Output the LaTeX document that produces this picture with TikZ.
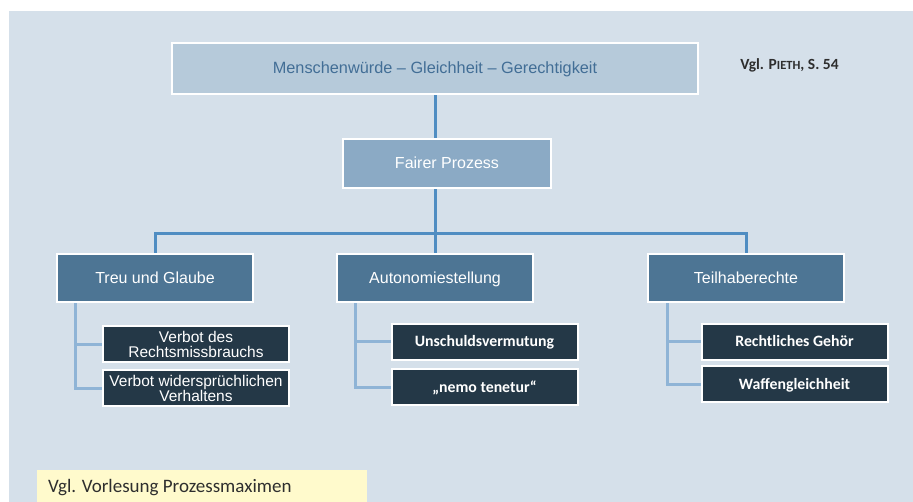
\documentclass[tikz,border=0pt]{standalone}
\usepackage{fontspec}
\setmainfont{Liberation Sans}
\newfontfamily\carlito{Carlito}
\usetikzlibrary{backgrounds}

\definecolor{pagebg}{HTML}{D5E0EA}
\definecolor{topfill}{HTML}{B6CADA}
\definecolor{toptext}{HTML}{426E96}
\definecolor{fairfill}{HTML}{8BAAC5}
\definecolor{midfill}{HTML}{4D7594}
\definecolor{leaffill}{HTML}{243847}
\definecolor{mainline}{HTML}{4F8DC2}
\definecolor{leafline}{HTML}{8FB4D6}
\definecolor{notefill}{HTML}{FFFACC}
\definecolor{notetext}{HTML}{2E2E2E}

\tikzset{
  box/.style={draw=white, line width=2pt, inner sep=0pt, align=center},
  topbox/.style={box, fill=topfill, text=toptext, minimum width=526pt, minimum height=51pt,
    font=\fontsize{16.3}{17}\selectfont, text height=11.5pt, text depth=0.5pt},
  fairbox/.style={box, fill=fairfill, text=white, minimum width=208pt, minimum height=49pt,
    font=\fontsize{16}{17}\selectfont, text height=11.5pt, text depth=0.5pt},
  midbox/.style={box, fill=midfill, text=white, minimum width=196pt, minimum height=48pt,
    font=\fontsize{16}{17}\selectfont, text height=11.5pt, text depth=0.5pt},
  leafbox/.style={box, fill=leaffill, text=white, minimum width=186pt, minimum height=36pt},
  leaftwo/.style={leafbox, font=\fontsize{15.5}{15.5}\selectfont},
  leafbold/.style={leafbox, font=\carlito\bfseries\fontsize{15.8}{16}\selectfont,
    text height=10.5pt, text depth=0.5pt},
  mainlink/.style={draw=mainline, line width=3pt},
  leaflink/.style={draw=leafline, line width=3pt},
}

\begin{document}
\begin{tikzpicture}[x=1pt, y=-1pt]
  \useasboundingbox (0,0) rectangle (913,502);
  \clip (0,0) rectangle (913,502);

  % boxes
  \node[topbox]  (top)  at (435,68.5)  {Menschenwürde – Gleichheit – Gerechtigkeit};
  \node[fairbox] (fair) at (447,163.5) {Fairer Prozess};
  \node[midbox]  (treu) at (155,278)   {Treu und Glaube};
  \node[midbox]  (auto) at (435,278)   {Autonomiestellung};
  \node[midbox]  (teil) at (746,278)   {Teilhaberechte};

  \node[leaftwo]  (l1) at (196,344.5)   {Verbot des\\Rechtsmissbrauchs};
  \node[leaftwo]  (l2) at (196,388.5)   {Verbot widersprüchlichen\\Verhaltens};
  \node[leafbold] (m1) at (484.5,342)   {Unschuldsvermutung};
  \node[leafbold] (m2) at (484.5,387.5) {„nemo tenetur“};
  \node[leafbold] (r1) at (794.5,342)   {Rechtliches Gehör};
  \node[leafbold] (r2) at (794.5,384.5) {Waffengleichheit};

  % source reference
  \node[font=\carlito\bfseries\fontsize{15.5}{16}\selectfont, text=notetext, inner sep=0pt]
    (pieth) at (789.5,65) {Vgl. P{\fontsize{12.5}{13}\selectfont IETH}, S. 54};

  % lecture note
  \node[fill=notefill, minimum width=330pt, minimum height=36pt, inner sep=0pt,
        anchor=north west] (note) at (37,470) {};
  \node[font=\carlito\fontsize{19}{20}\selectfont, text=notetext, anchor=west, inner sep=0pt]
    (notetxt) at (48,488) {Vgl. Vorlesung Prozessmaximen};

  \begin{scope}[on background layer]
    % panel
    \fill[pagebg] (9,11) rectangle (913,502);

    % main hierarchy connectors
    \coordinate (bar) at (435,233.5);
    \draw[mainlink] (top.south) -- (fair.north -| top.south);
    \draw[mainlink] (fair.south -| top.south) -- (auto.north);
    \draw[mainlink] (treu.north) |- (bar) -| (teil.north);

    % leaf connectors
    \draw[leaflink] ([xshift=19pt]treu.south west) |- (l1.west);
    \draw[leaflink] ([xshift=19pt]treu.south west) |- (l2.west);
    \draw[leaflink] ([xshift=19pt]auto.south west) |- (m1.west);
    \draw[leaflink] ([xshift=19pt]auto.south west) |- (m2.west);
    \draw[leaflink] ([xshift=20pt]teil.south west) |- (r1.west);
    \draw[leaflink] ([xshift=20pt]teil.south west) |- (r2.west);
  \end{scope}
\end{tikzpicture}
\end{document}
